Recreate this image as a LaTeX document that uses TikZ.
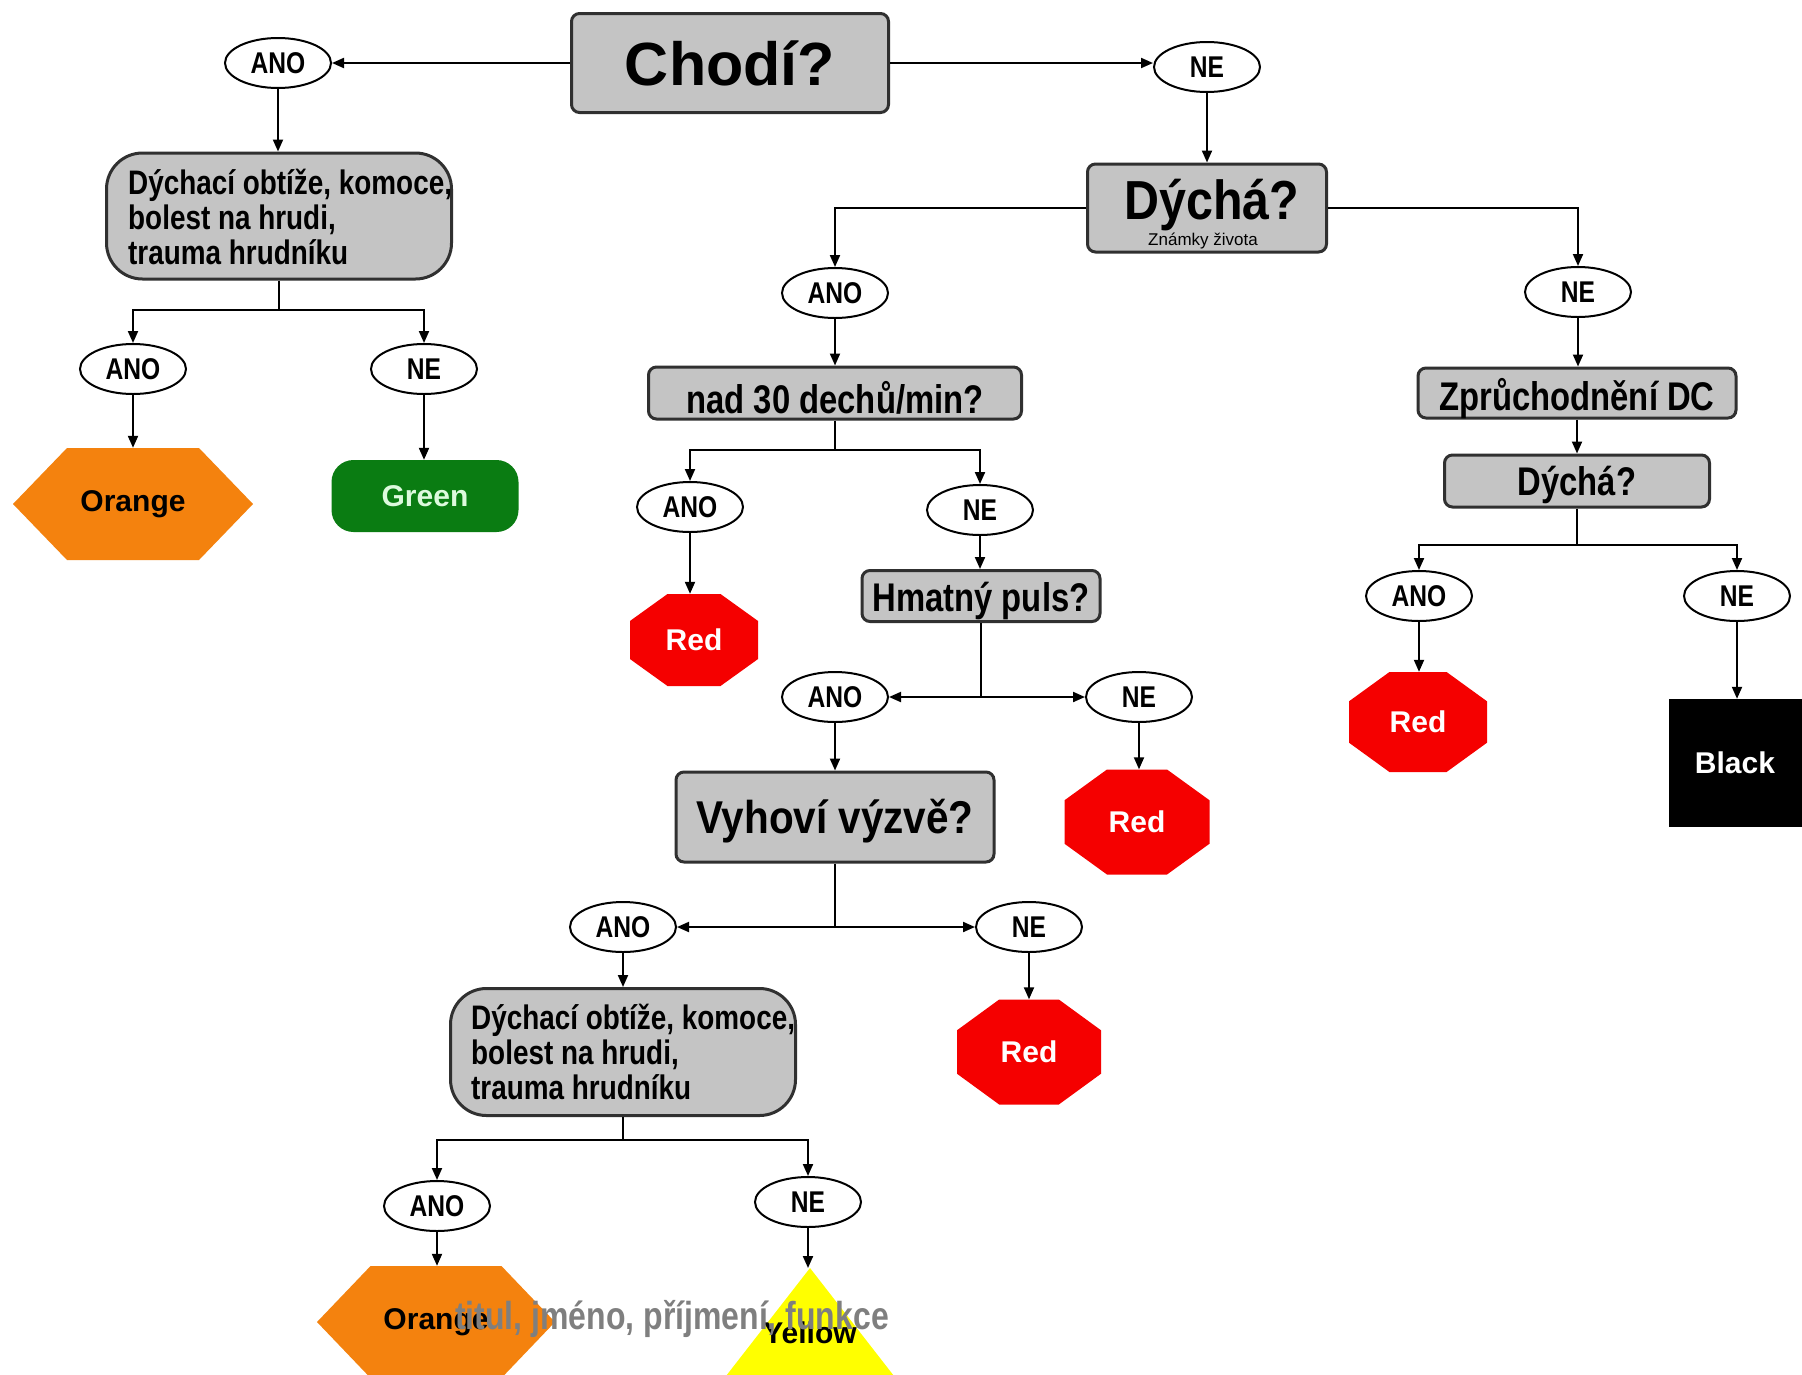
\documentclass[tikz,border=0pt]{standalone}
\usepackage{fontspec}
\setmainfont{Liberation Sans}
\newfontfamily\narrowf[FakeStretch=0.82]{Liberation Sans}
\newfontfamily\semif[FakeStretch=0.88]{Liberation Sans}
\usetikzlibrary{arrows.meta,shapes.geometric}

\definecolor{boxgray}{HTML}{C4C4C4}
\definecolor{boxline}{HTML}{303030}
\definecolor{orangeF}{HTML}{F4820E}
\definecolor{redF}{HTML}{F50000}
\definecolor{greenF}{HTML}{0A7C12}
\definecolor{greenT}{HTML}{DDFADD}
\definecolor{yellowF}{HTML}{FFFF00}
\definecolor{overlayT}{HTML}{7F7F7F}

\tikzset{
 conn/.style={line width=2pt, draw=black},
 arr/.style={conn, -{Triangle[length=12pt,width=10pt]}},
 ell/.style={ellipse, draw=black, line width=2pt, fill=white, minimum width=106pt, minimum height=50pt, inner sep=0pt, font={\narrowf\bfseries\fontsize{30}{30}\selectfont}},
 qbox/.style={rectangle, rounded corners=8pt, draw=boxline, line width=3pt, fill=boxgray, inner sep=0pt, font={\narrowf\bfseries\fontsize{40}{40}\selectfont}},
 lowtext/.style={text height=#1, text depth=0pt},
 bigbox/.style={qbox, rounded corners=36pt},
 res/.style={rectangle, inner sep=0pt, font={\bfseries\fontsize{30}{30}\selectfont}},
 boxtext/.style={anchor=west, align=left, inner sep=0pt, font={\narrowf\bfseries\fontsize{34}{35}\selectfont}},
}

% octagon: name, x, y, w, h, colour, text
\newcommand\octnode[7]{%
 \fill[#6] ({#2-0.207*#4},{#3-0.5*#5}) -- ({#2+0.207*#4},{#3-0.5*#5}) -- ({#2+0.5*#4},{#3-0.207*#5}) -- ({#2+0.5*#4},{#3+0.207*#5}) -- ({#2+0.207*#4},{#3+0.5*#5}) -- ({#2-0.207*#4},{#3+0.5*#5}) -- ({#2-0.5*#4},{#3+0.207*#5}) -- ({#2-0.5*#4},{#3-0.207*#5}) -- cycle;
 \node[res, text=white, minimum width=#4pt, minimum height=#5pt] (#1) at (#2,#3) {#7};}
% hexagon: name, x, y, w, h, text
\newcommand\hexnode[6]{%
 \fill[orangeF] ({#2-0.5*#4},#3) -- ({#2-0.275*#4},{#3-0.5*#5}) -- ({#2+0.275*#4},{#3-0.5*#5}) -- ({#2+0.5*#4},#3) -- ({#2+0.275*#4},{#3+0.5*#5}) -- ({#2-0.275*#4},{#3+0.5*#5}) -- cycle;
 \node[res, text=black, minimum width=#4pt, minimum height=#5pt] (#1) at (#2,#3) {#6};}

\begin{document}
\begin{tikzpicture}[x=1pt,y=-1pt]
\useasboundingbox (0,0) rectangle (1802,1374);
\fill[white] (0,0) rectangle (1802,1374);
\clip (0,0) rectangle (1802,1374);

% ---------- question boxes ----------
\node[qbox, minimum width=317pt, minimum height=99pt, font={\bfseries\fontsize{61}{61}\selectfont}] (chodi) at (730,63) {Chodí?};

\node[bigbox, minimum width=345pt, minimum height=126pt] (box1) at (279,216) {};
\node[boxtext] (box1t) at (128,217) {Dýchací obtíže, komoce,\\bolest na hrudi,\\trauma hrudníku};

\node[qbox, minimum width=239pt, minimum height=88pt] (dycha) at (1207,208) {};
\node[inner sep=0pt, font={\semif\bfseries\fontsize{55}{55}\selectfont}] (dychat) at (1212,205) {Dýchá?};
\node[inner sep=0pt, font={\fontsize{17}{17}\selectfont}] (zivota) at (1203,241) {Známky života};

\node[qbox, lowtext=40pt, minimum width=373pt, minimum height=52pt] (nad30) at (835,393) {nad 30 dechů/min?};
\node[qbox, lowtext=30pt, minimum width=238pt, minimum height=51pt] (hmat) at (981,596) {Hmatný puls?};
\node[qbox, lowtext=33pt, minimum width=318pt, minimum height=90pt, font={\semif\bfseries\fontsize{46}{46}\selectfont}] (vyhovi) at (835,817) {Vyhoví výzvě?};

\node[bigbox, minimum width=345pt, minimum height=127pt] (box2) at (623,1052) {};
\node[boxtext] (box2t) at (471,1052) {Dýchací obtíže, komoce,\\bolest na hrudi,\\trauma hrudníku};

\node[qbox, lowtext=35pt, minimum width=318pt, minimum height=50pt] (zpruch) at (1577,393) {Zprůchodnění DC};
\node[qbox, lowtext=29pt, minimum width=265pt, minimum height=52pt] (dycha2) at (1577,481) {Dýchá?};

% ---------- answer ellipses ----------
\node[ell] (ano1) at (278,63) {ANO};
\node[ell] (ne1) at (1207,67) {NE};
\node[ell] (ano2) at (133,369) {ANO};
\node[ell] (ne2) at (424,369) {NE};
\node[ell] (ano3) at (835,293) {ANO};
\node[ell] (ne3) at (1578,292) {NE};
\node[ell] (ano4) at (690,507) {ANO};
\node[ell] (ne4) at (980,510) {NE};
\node[ell] (ano5) at (835,697) {ANO};
\node[ell] (ne5) at (1139,697) {NE};
\node[ell] (ano6) at (623,927) {ANO};
\node[ell] (ne6) at (1029,927) {NE};
\node[ell] (ano7) at (437,1206) {ANO};
\node[ell] (ne7) at (808,1202) {NE};
\node[ell] (ano8) at (1419,596) {ANO};
\node[ell] (ne8) at (1737,596) {NE};

% ---------- results ----------
\hexnode{orange1}{133}{504}{240}{112}{Orange}
\node[res, fill=greenF, rounded corners=22pt, minimum width=187pt, minimum height=72pt, text=greenT] (green) at (425,496) {Green};
\octnode{red1}{694}{640}{128}{92}{redF}{Red}
\octnode{red2}{1137}{822}{145}{105}{redF}{Red}
\octnode{red3}{1029}{1052}{144}{105}{redF}{Red}
\octnode{red4}{1418}{722}{138}{100}{redF}{Red}
\node[res, fill=black, text=white, minimum width=133pt, minimum height=128pt] (black) at (1735,763) {Black};
\hexnode{orange2}{436}{1322}{238}{112}{Orange}
\fill[yellowF] (810,1268) -- (922,1412) -- (698,1412) -- cycle;
\coordinate (yapex) at (810,1268);
\node[res, text=black] (yellow) at (810,1333) {Yellow};

% ---------- fork points ----------
\coordinate (f1) at (279,310);
\coordinate (f2) at (835,450);
\coordinate (f3) at (981,697);
\coordinate (f4) at (835,927);
\coordinate (f5) at (623,1140);
\coordinate (f6) at (1577,545);

% ---------- connectors ----------
\draw[arr] (chodi.west) -- (chodi.west -| ano1.east);
\draw[arr] (chodi.east) -- (chodi.east -| ne1.west);
\draw[arr] (ano1.south) -- (ano1.south |- box1.north);
\draw[conn] (box1.south) -- (f1);
\draw[arr] (f1) -| (ano2.north);
\draw[arr] (f1) -| (ne2.north);
\draw[arr] (ano2.south) -- (ano2.south |- orange1.north);
\draw[arr] (ne2.south) -- (ne2.south |- green.north);

\draw[arr] (ne1.south) -- (ne1.south |- dycha.north);
\draw[arr] (dycha.west) -| (ano3.north);
\draw[arr] (dycha.east) -| (ne3.north);
\draw[arr] (ano3.south) -- (ano3.south |- nad30.north);
\draw[conn] (nad30.south) -- (f2);
\draw[arr] (f2) -| (ano4.north);
\draw[arr] (f2) -| (ne4.north);
\draw[arr] (ano4.south) -- (ano4.south |- red1.north);
\draw[arr] (ne4.south) -- (ne4.south |- hmat.north);
\draw[conn] (hmat.south) -- (f3);
\draw[arr] (f3) -- (f3 -| ano5.east);
\draw[arr] (f3) -- (f3 -| ne5.west);
\draw[arr] (ano5.south) -- (ano5.south |- vyhovi.north);
\draw[arr] (ne5.south) -- (ne5.south |- red2.north);
\draw[conn] (vyhovi.south) -- (f4);
\draw[arr] (f4) -- (f4 -| ano6.east);
\draw[arr] (f4) -- (f4 -| ne6.west);
\draw[arr] (ano6.south) -- (ano6.south |- box2.north);
\draw[arr] (ne6.south) -- (ne6.south |- red3.north);
\draw[conn] (box2.south) -- (f5);
\draw[arr] (f5) -| (ano7.north);
\draw[arr] (f5) -| (ne7.north);
\draw[arr] (ano7.south) -- (ano7.south |- orange2.north);
\draw[arr] (ne7.south) -- (ne7.south |- yapex);

\draw[arr] (ne3.south) -- (ne3.south |- zpruch.north);
\draw[arr] (zpruch.south) -- (zpruch.south |- dycha2.north);
\draw[conn] (dycha2.south) -- (f6);
\draw[arr] (f6) -| (ano8.north);
\draw[arr] (f6) -| (ne8.north);
\draw[arr] (ano8.south) -- (ano8.south |- red4.north);
\draw[arr] (ne8.south) -- (ne8.south |- black.north);

% ---------- overlay footer text ----------
\node[inner sep=0pt, text=overlayT, font={\narrowf\bfseries\fontsize{39}{39}\selectfont}] (footer) at (672,1319) {titul, jméno, příjmení, funkce};
\end{tikzpicture}
\end{document}
